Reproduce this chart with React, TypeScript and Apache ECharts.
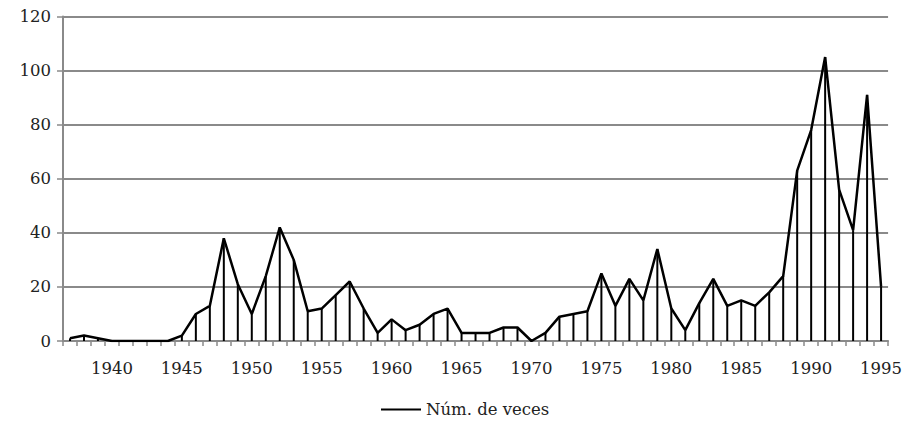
import React, { useEffect, useRef } from "react";
import * as echarts from "echarts";

const years: string[] = [];
for (let y = 1937; y <= 1995; y++) years.push(String(y));

const counts = [
  1, 2, 1, 0, 0, 0, 0, 0, 2, 10,
  13, 38, 21, 10, 24, 42, 30, 11, 12, 17,
  22, 12, 3, 8, 4, 6, 10, 12, 3, 3,
  3, 5, 5, 0, 3, 9, 10, 11, 25, 13,
  23, 15, 34, 12, 4, 14, 23, 13, 15, 13,
  18, 24, 63, 78, 105, 56, 41, 91, 20,
];

const yTicks = { min: 0, max: 120, interval: 20 };
const seriesName = "Núm. de veces";

const FONT = "DejaVu Serif";
const GRAY = "#8a8a8a";

export default function App() {
  const ref = useRef<HTMLDivElement>(null);
  useEffect(() => {
    if (!ref.current) return;
    const chart = echarts.init(ref.current, null, { renderer: "svg" });
    chart.setOption({
      animation: false,
      backgroundColor: "#ffffff",
      grid: { left: 55, right: 8, top: 8, bottom: 83, containLabel: false },
      legend: {
        data: [{ name: seriesName, icon: "rect" }],
        left: 368,
        top: 388,
        itemWidth: 40,
        itemHeight: 2,
        itemGap: 4,
        textStyle: { fontFamily: FONT, fontSize: 16.5, color: "#222" },
      },
      xAxis: {
        type: "category",
        data: years,
        boundaryGap: true,
        axisLine: { lineStyle: { color: GRAY, width: 2 } },
        axisTick: { show: true, interval: 0, length: 5, lineStyle: { color: GRAY, width: 1.5 } },
        axisLabel: {
          interval: (_i: number, v: string) => Number(v) % 5 === 0,
          fontFamily: FONT,
          fontSize: 16.5,
          color: "#222",
          margin: 19,
        },
        splitLine: { show: false },
      },
      yAxis: {
        type: "value",
        min: yTicks.min,
        max: yTicks.max,
        interval: yTicks.interval,
        axisLine: { show: true, lineStyle: { color: GRAY, width: 2 } },
        axisTick: { show: true, length: 6, lineStyle: { color: GRAY, width: 1.5 } },
        axisLabel: { fontFamily: FONT, fontSize: 16.5, color: "#222", margin: 12 },
        splitLine: { show: true, lineStyle: { color: GRAY, width: 2 } },
      },
      series: [
        {
          name: "drop",
          type: "bar",
          data: counts,
          barWidth: 2,
          itemStyle: { color: "#000" },
          silent: true,
        },
        {
          name: seriesName,
          type: "line",
          data: counts,
          showSymbol: false,
          symbol: "none",
          lineStyle: { color: "#000", width: 2.5 },
          itemStyle: { color: "#000" },
        },
      ],
    });
    return () => chart.dispose();
  }, []);
  return <div ref={ref} style={{ width: 897, height: 416 }} />;
}
